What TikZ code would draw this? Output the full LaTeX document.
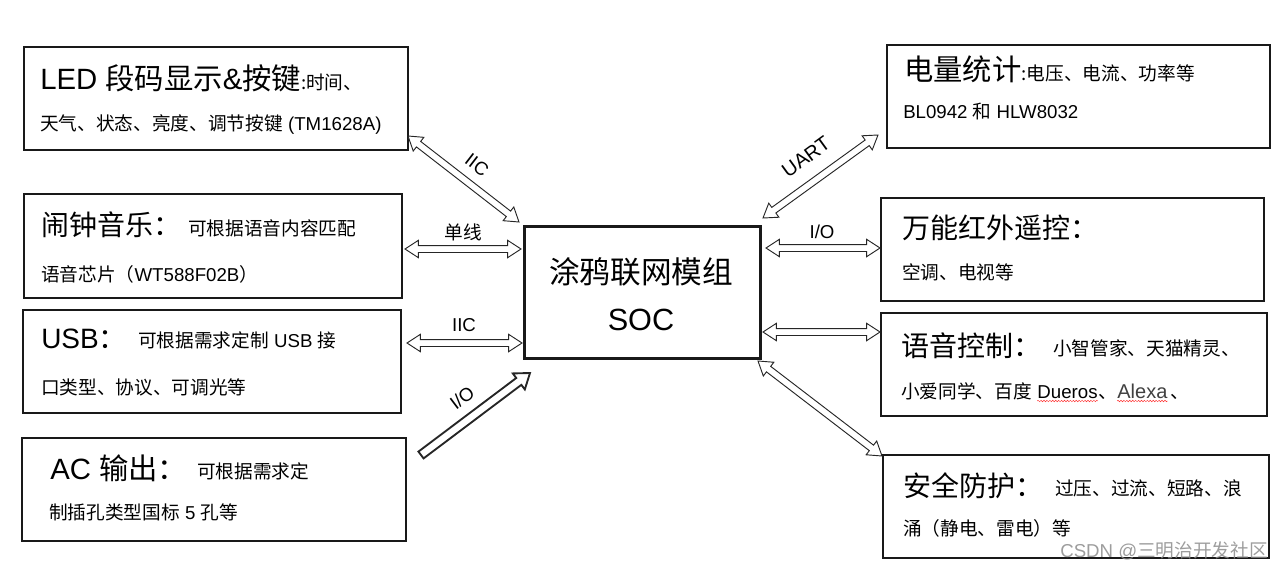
\documentclass[tikz,border=0pt]{standalone}
\usepackage{fontspec}
\setmainfont{Liberation Sans}
\newfontfamily\cjk{Noto Sans CJK SC}
\usetikzlibrary{calc,decorations.pathmorphing}
\newcommand{\zh}[1]{{\cjk #1}}
\newcommand{\BIG}{\fontsize{21}{25}\selectfont}
\newcommand{\BIGG}{\fontsize{22}{26}\selectfont}
\newcommand{\CEN}{\fontsize{23}{27}\selectfont}
\newcommand{\SM}{\fontsize{14}{17}\selectfont}
\newcommand{\mybox}[6][]{\node[box,#1,minimum width={(#5-#3)*0.75pt},minimum height={(#6-#4)*0.75pt}] (#2) at (#3,#4) {};}
\def\hlen{10pt}\def\hwid{6.5pt}\def\swid{2.6pt}
\newcommand{\dblarrow}[2]{%
  \coordinate (hA) at ($(#1)!\hlen!(#2)$);
  \coordinate (hB) at ($(#2)!\hlen!(#1)$);
  \draw[conn] (#1) -- ($(hA)!\hwid!90:(#2)$) -- ($(hA)!\swid!90:(#2)$) -- ($(hB)!\swid!-90:(#1)$) -- ($(hB)!\hwid!-90:(#1)$) -- (#2)
    -- ($(hB)!\hwid!90:(#1)$) -- ($(hB)!\swid!90:(#1)$) -- ($(hA)!\swid!-90:(#2)$) -- ($(hA)!\hwid!-90:(#2)$) -- cycle;}
\newcommand{\sglarrow}[2]{%
  \coordinate (hA) at ($(#2)!10.5pt!(#1)$);
  \draw[conn,line width=1.4pt] ($(#1)!3.2pt!90:(#2)$) -- ($(hA)!3.2pt!-90:(#1)$) -- ($(hA)!7.5pt!-90:(#1)$) -- (#2)
    -- ($(hA)!7.5pt!90:(#1)$) -- ($(hA)!3.2pt!90:(#1)$) -- ($(#1)!3.2pt!-90:(#2)$) -- cycle;}
\begin{document}
\begin{tikzpicture}[x=0.75pt,y=-0.75pt,
  box/.style={draw=black!90,line width=1.5pt,inner sep=0pt,anchor=north west},
  txt/.style={inner sep=0pt,anchor=base west},
  ctxt/.style={inner sep=0pt,anchor=base},
  conn/.style={draw=black!85,fill=white,line width=0.7pt,line join=miter},
  lbl/.style={inner sep=0pt,font=\SM},
  squig/.style={draw=red!80,line width=0.35pt,decorate,decoration={snake,segment length=2.2pt,amplitude=0.55pt}}]
\useasboundingbox (0,0) rectangle (1286,572);
% boxes
\mybox{b1}{23}{46}{407}{149}
\mybox{b2}{23}{193}{401}{297}
\mybox{b3}{22}{309}{400}{412}
\mybox{b4}{21}{437}{405}{540}
\mybox[line width=2.3pt]{cen}{523}{225}{759}{357}
\mybox{r1}{886}{44}{1269}{147}
\mybox{r2}{880}{197}{1263}{300}
\mybox{r3}{880}{312}{1266}{415}
\mybox{r4}{882}{454}{1268}{557}
% texts left
\node[txt] (t1a) at (40,89) {\BIGG LED \zh{段码显示}\&\zh{按键}\SM\zh{:时间、}};
\node[txt] (t1b) at (40,130) {\SM\zh{天气、状态、亮度、调节按键} (TM1628A)};
\node[txt] (t2a) at (41,235) {\BIG\zh{闹钟音乐：}};
\node[txt] (t2b) at (188,235) {\SM\zh{可根据语音内容匹配}};
\node[txt] (t2c) at (41,281) {\SM\zh{语音芯片（}WT588F02B\zh{）}};
\node[txt] (t3a) at (41,348) {\BIG USB\zh{：}};
\node[txt] (t3b) at (138,347) {\SM\zh{可根据需求定制} USB \zh{接}};
\node[txt] (t3c) at (41,394) {\SM\zh{口类型、协议、可调光等}};
\node[txt] (t4a) at (50,479) {\BIGG AC \zh{输出：}};
\node[txt] (t4b) at (197,478) {\SM\zh{可根据需求定}};
\node[txt] (t4c) at (49,519) {\SM\zh{制插孔类型国标} 5 \zh{孔等}};
% centre
\node[ctxt] (c1) at (641,283) {\CEN\zh{涂鸦联网模组}};
\node[ctxt] (c2) at (641,330) {\CEN SOC};
% texts right
\node[txt] (s1a) at (904,80) {\BIGG\zh{电量统计}\SM\zh{:电压、电流、功率等}};
\node[txt] (s1b) at (903,118) {\SM BL0942 \zh{和} HLW8032};
\node[txt] (s2a) at (902,238) {\BIG\zh{万能红外遥控：}};
\node[txt] (s2b) at (902,279) {\SM\zh{空调、电视等}};
\node[txt] (s3a) at (901,356) {\BIG\zh{语音控制：}};
\node[txt] (s3b) at (1053,355) {\SM\zh{小智管家、天猫精灵、}};
\node[txt] (s3c) at (901,398) {\SM\zh{小爱同学、百度}};
\node[txt] (du) at ($(s3c.base east)+(5,0)$) {\SM Dueros};
\node[txt] (s3d) at (du.base east) {\SM\zh{、}};
\node[txt] (al) at (s3d.base east) {\fontsize{15}{18}\selectfont\color{black!75}Alexa};
\node[txt] (s3e) at ($(al.base east)+(3,0)$) {\SM\zh{、}};
\draw[squig] ($(du.base west)+(0,3)$) -- ($(du.base east)+(0,3)$);
\draw[squig] ($(al.base west)+(0,3)$) -- ($(al.base east)+(0,3)$);
\node[txt] (s4a) at (903,496) {\BIG\zh{安全防护：}};
\node[txt] (s4b) at (1055,495) {\SM\zh{过压、过流、短路、浪}};
\node[txt] (s4c) at (903,535) {\SM\zh{涌（静电、雷电）等}};
% connector ends
\coordinate (a1s) at (408,136); \coordinate (a1e) at (519,222);
\coordinate (a2s) at (405,249); \coordinate (a2e) at (521,249);
\coordinate (a3s) at (407,343); \coordinate (a3e) at (522,343);
\coordinate (a4s) at (421,455); \coordinate (a4e) at (530,373);
\coordinate (a5s) at (763,218); \coordinate (a5e) at (878,135);
\coordinate (a6s) at (766,248); \coordinate (a6e) at (880,248);
\coordinate (a7s) at (763,332); \coordinate (a7e) at (880,332);
\coordinate (a8s) at (758,361); \coordinate (a8e) at (882,456);
\dblarrow{a1s}{a1e}
\dblarrow{a2s}{a2e}
\dblarrow{a3s}{a3e}
\sglarrow{a4s}{a4e}
\dblarrow{a5s}{a5e}
\dblarrow{a6s}{a6e}
\dblarrow{a7s}{a7e}
\dblarrow{a8s}{a8e}
% labels
\node[lbl,rotate=-37.7] (l1) at (477,165) {IIC};
\node[lbl] (l2) at (463,232) {\zh{单线}};
\node[lbl] (l3) at (464,325) {IIC};
\node[lbl,rotate=37] (l4) at (462,398) {I/O};
\node[lbl,rotate=36,font=\fontsize{15}{18}\selectfont] (l5) at (806,157) {UART};
\node[lbl] (l6) at (822,232) {I/O};
% watermark
\node[txt,text=black!45,opacity=0.85] (wm) at (1060,557) {\SM CSDN @\zh{三明治开发社区}};
\end{tikzpicture}
\end{document}
